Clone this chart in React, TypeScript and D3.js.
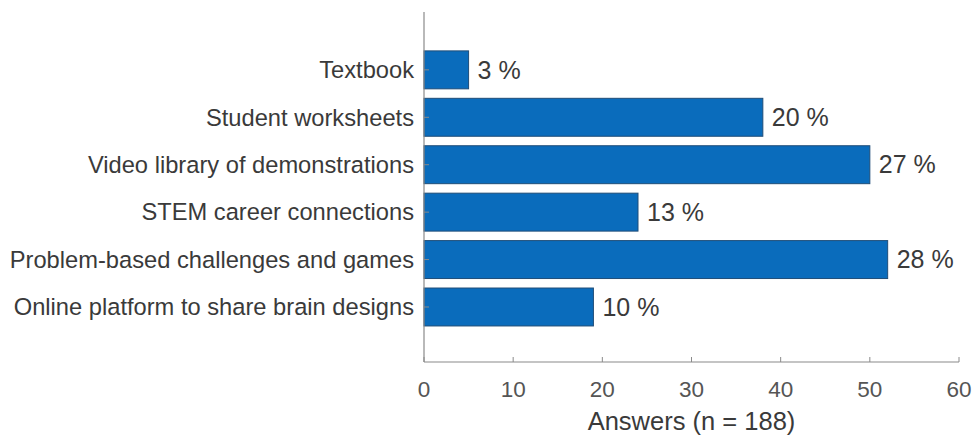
import React from "react";
import * as d3 from "d3";

const categories = [
  "Textbook",
  "Student worksheets",
  "Video library of demonstrations",
  "STEM career connections",
  "Problem-based challenges and games",
  "Online platform to share brain designs",
];
const counts = [5, 38, 50, 24, 52, 19];
const percentLabels = ["3 %", "20 %", "27 %", "13 %", "28 %", "10 %"];
const xTicks = [0, 10, 20, 30, 40, 50, 60];
const xTitle = "Answers (n = 188)";

const W = 977;
const H = 435;
const FONT = "'Liberation Sans', Arial, Helvetica, sans-serif";

export default function App() {
  const x = d3.scaleLinear().domain([0, 60]).range([424, 959]);
  const y = d3.scaleLinear().domain([-1.22, 6.16]).range([12, 362]);
  const barH = y(0.8) - y(0);
  const axisColor = "#8a8a8a";

  return (
    <svg
      width={W}
      height={H}
      style={{ position: "absolute", left: 0, top: 0, background: "#fff" }}
      fontFamily={FONT}
    >
      {/* bars */}
      {counts.map((v, i) => (
        <rect
          key={categories[i]}
          x={x(0)}
          y={y(i) - barH / 2}
          width={x(v) - x(0)}
          height={barH}
          fill="#0a6cbc"
          stroke="#1f4d78"
          strokeWidth={1}
        />
      ))}
      {/* value labels */}
      {counts.map((v, i) => (
        <text
          key={"v" + i}
          x={x(v) + 9}
          y={y(i)}
          dy="0.35em"
          fontSize={25}
          fill="#3a3a3a"
        >
          {percentLabels[i]}
        </text>
      ))}
      {/* category labels */}
      {categories.map((c, i) => (
        <text
          key={"c" + i}
          x={414}
          y={y(i)}
          dy="0.35em"
          textAnchor="end"
          fontSize={23.7}
          fill="#3a3a3a"
        >
          {c}
        </text>
      ))}
      {/* axes */}
      <line x1={x(0)} x2={x(0)} y1={y(-1.22)} y2={y(6.16)} stroke={axisColor} strokeWidth={1.2} />
      <line x1={x(0)} x2={x(60)} y1={y(6.16)} y2={y(6.16)} stroke={axisColor} strokeWidth={1.2} />
      {categories.map((c, i) => (
        <line key={"yt" + i} x1={x(0)} x2={x(0) + 5} y1={y(i)} y2={y(i)} stroke={axisColor} />
      ))}
      {xTicks.map((t) => (
        <g key={"xt" + t}>
          <line x1={x(t)} x2={x(t)} y1={y(6.16)} y2={y(6.16) - 5} stroke={axisColor} />
          <text
            x={x(t)}
            y={397}
            textAnchor="middle"
            fontSize={22.5}
            fill="#555"
          >
            {t}
          </text>
        </g>
      ))}
      <text
        x={(x(0) + x(60)) / 2}
        y={430}
        textAnchor="middle"
        fontSize={25.5}
        fill="#3a3a3a"
      >
        {xTitle}
      </text>
    </svg>
  );
}
